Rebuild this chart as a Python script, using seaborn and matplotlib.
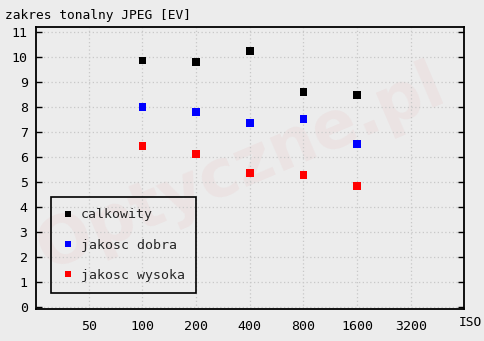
import matplotlib
matplotlib.use("Agg")
import matplotlib.pyplot as plt
import seaborn as sns
import pandas as pd

iso_ticks = ["50", "100", "200", "400", "800", "1600", "3200"]
iso_data = ["100", "200", "400", "800", "1600"]
calkowity = [9.85, 9.8, 10.25, 8.6, 8.48]
jakosc_dobra = [8.0, 7.8, 7.36, 7.52, 6.52]
jakosc_wysoka = [6.44, 6.12, 5.36, 5.28, 4.84]
series_names = ["calkowity", "jakosc dobra", "jakosc wysoka"]
colors = ["#000000", "#0000ff", "#ff0000"]
y_ticks = list(range(0, 12))

rows = []
for name, vals in zip(series_names, [calkowity, jakosc_dobra, jakosc_wysoka]):
    for iso, v in zip(iso_data, vals):
        rows.append({"iso": iso_ticks.index(iso), "ev": v, "seria": name})
df = pd.DataFrame(rows)

sns.set_theme(style="white")
plt.rcParams["font.family"] = ["DejaVu Sans Mono"]
bg = "#ececec"
fig = plt.figure(figsize=(4.84, 3.41), dpi=100, facecolor=bg)
ax = fig.add_axes([36/484, 1-309/341, (464-36)/484, (309-27)/341])
ax.set_facecolor(bg)

# faint watermark
ax.text(0.48, 0.5, "Optyczne.pl", transform=ax.transAxes, fontsize=47,
        fontweight="bold", family="DejaVu Sans", rotation=23, color="#e04040",
        alpha=0.055, ha="center", va="center", zorder=0.1)

sns.scatterplot(data=df, x="iso", y="ev", hue="seria", palette=colors,
                hue_order=series_names, marker="s", s=30, edgecolor="none",
                linewidth=0, ax=ax, legend=True, zorder=3)

ax.set_xlim(-0.98, 6.99)
ax.set_ylim(-0.1, 11.2)
ax.set_xticks(range(len(iso_ticks)))
ax.set_xticklabels(iso_ticks)
ax.set_yticks(y_ticks)
ax.set_xlabel("")
ax.set_ylabel("")
ax.grid(True, color="#c8c8c8", linestyle=(0, (1, 2)), linewidth=0.9)
for s in ax.spines.values():
    s.set_color("black")
    s.set_linewidth(1.3)
ax.tick_params(axis="y", which="both", direction="in", left=True, right=True,
               length=4, width=1, colors="black", labelsize=9.5, pad=6)
ax.tick_params(axis="x", length=0, labelsize=9.5, pad=8, colors="black")
for lab in ax.get_xticklabels() + ax.get_yticklabels():
    lab.set_color("black")

fig.text(5/484, 1-15/341, "zakres tonalny JPEG [EV]", fontsize=9.3,
         ha="left", va="center", color="black")
fig.text(470/484, 1-323/341, "ISO", fontsize=9.3, ha="center", va="center",
         color="black")

handles, labels = ax.get_legend_handles_labels()
leg = ax.legend(handles, labels, loc="lower left", bbox_to_anchor=(15/428, 16/282),
                borderaxespad=0, frameon=True, fancybox=False, edgecolor="black",
                facecolor="none", framealpha=1, labelspacing=1.3,
                handletextpad=0.55, borderpad=0.85, fontsize=9.5,
                markerscale=0.75, handlelength=0.85)
leg.get_frame().set_linewidth(1.2)
leg.set_zorder(5)

fig.savefig("out.png", dpi=100, facecolor=bg)
